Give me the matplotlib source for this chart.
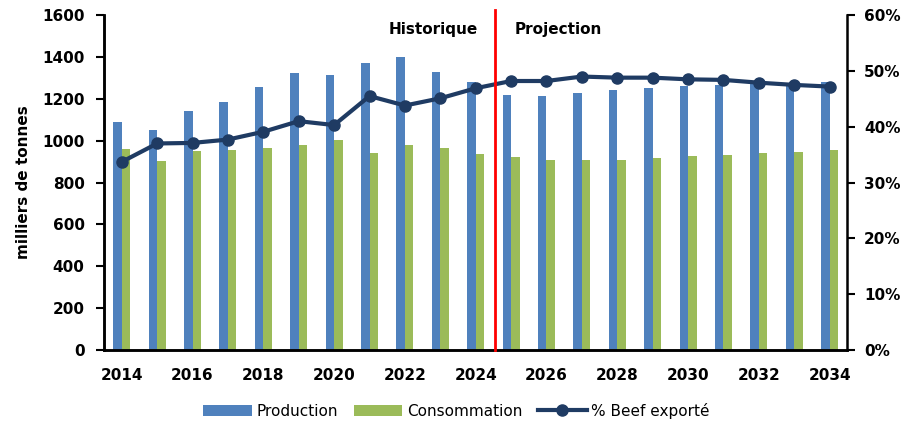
import numpy as np
import matplotlib.pyplot as plt
from matplotlib.ticker import FuncFormatter

plt.rcParams['font.family'] = ['DejaVu Sans']

# data
years = list(range(2014, 2035))
production = [1090, 1050, 1140, 1185, 1255, 1325, 1315, 1370, 1400, 1330, 1280,
              1220, 1215, 1230, 1240, 1250, 1260, 1265, 1270, 1275, 1280]
consommation = [960, 905, 950, 955, 965, 980, 1005, 940, 980, 965, 935,
                920, 910, 908, 910, 915, 925, 930, 940, 945, 955]
pct_exporte = [33.7, 37.0, 37.1, 37.7, 39.1, 41.0, 40.3, 45.5, 43.8, 45.1, 46.9,
               48.2, 48.2, 49.0, 48.8, 48.8, 48.5, 48.4, 47.9, 47.5, 47.2]

BLUE = "#4F81BD"
GREEN = "#9BBB59"
NAVY = "#1F3B63"

fig = plt.figure(figsize=(9.13, 4.22), dpi=100)
ax = fig.add_axes([0.114, 0.171, 0.814, 0.793])
ax2 = ax.twinx()

x = np.arange(len(years))
w = 0.24
ax.bar(x - w / 2, production, w, color=BLUE, label="Production", zorder=2)
ax.bar(x + w / 2, consommation, w, color=GREEN, label="Consommation", zorder=2)

ax2.plot(x, pct_exporte, color=NAVY, lw=3.0, marker="o", markersize=8,
         label="% Beef exporté", zorder=3)

ax.set_xlim(-0.5, 20.5)
ax.set_ylim(0, 1600)
ax.set_yticks(range(0, 1601, 200))
ax2.set_ylim(0, 60)
ax2.set_yticks(range(0, 61, 10))
ax2.yaxis.set_major_formatter(FuncFormatter(lambda v, p: f"{v:.0f}%"))

ax.set_xticks(x[::2])
ax.set_xticklabels([str(y) for y in years[::2]])
ax.tick_params(axis="x", length=0, pad=13)
ax.tick_params(axis="y", direction="out", length=6, width=1.5, pad=8)
ax2.tick_params(axis="y", direction="out", length=6, width=1.5, pad=6)

for lbl in ax.get_xticklabels() + ax.get_yticklabels() + ax2.get_yticklabels():
    lbl.set_fontweight("bold")
    lbl.set_fontsize(11)

for a in (ax, ax2):
    a.spines["top"].set_visible(False)
    for s in ("left", "right", "bottom"):
        a.spines[s].set_linewidth(1.8)
ax.spines["right"].set_visible(False)

ax.set_ylabel("milliers de tonnes", fontsize=11, fontweight="bold", labelpad=8)

# split between historical data and projection
ax2.axvline(10.55, ymin=0, ymax=1.015, color="red", lw=2, clip_on=False, zorder=4)
ax2.text(10.05, 57.5, "Historique", ha="right", va="center",
         fontsize=11, fontweight="bold")
ax2.text(11.1, 57.5, "Projection", ha="left", va="center",
         fontsize=11, fontweight="bold")

h1, l1 = ax.get_legend_handles_labels()
h2, l2 = ax2.get_legend_handles_labels()
fig.legend(h1 + h2, l1 + l2, loc="lower center", ncol=3, frameon=False,
           fontsize=11, bbox_to_anchor=(0.5, -0.025), handlelength=3.2,
           handletextpad=0.3, columnspacing=1.0)

fig.savefig("out.png", dpi=100)
